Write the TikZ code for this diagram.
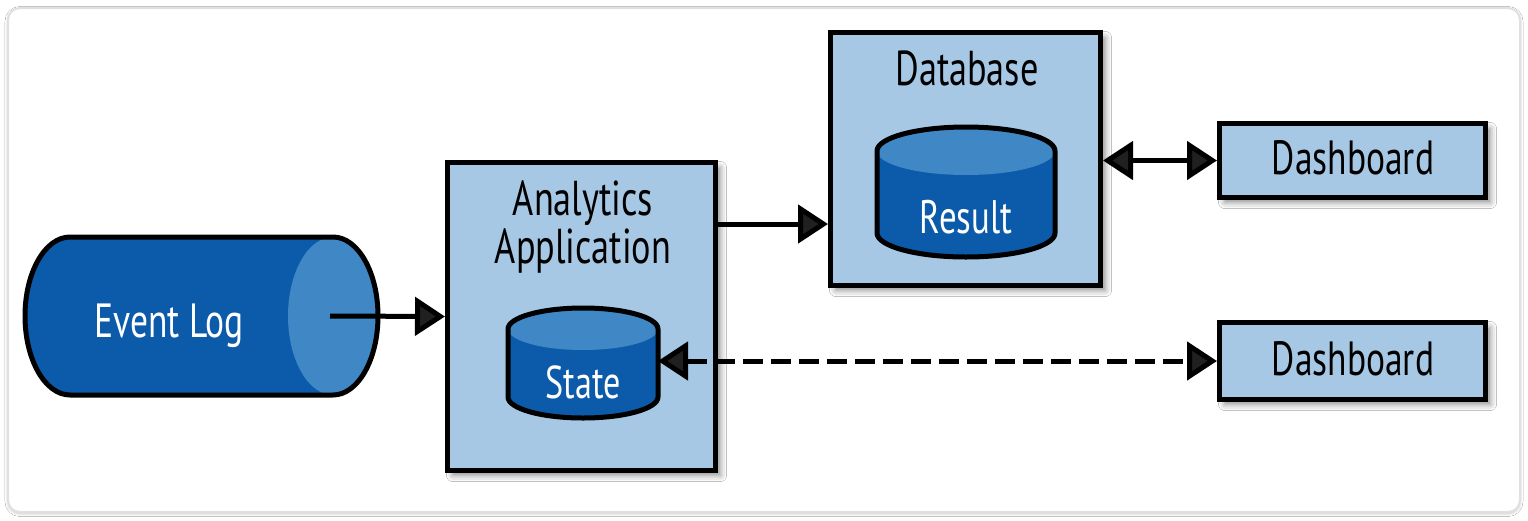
\documentclass[tikz,border=0pt]{standalone}
\usepackage{fontspec}
\setmainfont{PT Sans}[FakeStretch=0.74]
\usetikzlibrary{arrows.meta,shadows.blur,calc}
\definecolor{boxfill}{RGB}{166,200,228}
\definecolor{cyldark}{RGB}{12,91,170}
\definecolor{cyllight}{RGB}{63,136,197}
\definecolor{framegray}{RGB}{224,224,224}
\begin{document}
\begin{tikzpicture}[x=1pt,y=-1pt,
  box/.style={draw=black, fill=boxfill, line width=5pt, inner sep=0pt,
    blur shadow={shadow xshift=5pt, shadow yshift=-5pt, shadow blur radius=6pt, shadow opacity=45}},
  holder/.style={inner sep=0pt, outer sep=0pt},
  lbl/.style={anchor=base, inner sep=0pt, text=black},
  wlbl/.style={anchor=base, inner sep=0pt, text=white},
  cylbody/.style={fill=cyldark},
  cyltop/.style={fill=cyllight},
  cylline/.style={draw=black, line width=5pt, line join=round},
  tip/.tip={Triangle[length=30pt,width=38pt]},
  conn/.style={line width=5pt, -tip},
  biconn/.style={line width=5pt, tip-tip},
  dashconn/.style={biconn, dash pattern=on 20pt off 8pt}
]
\useasboundingbox (0,0) rectangle (1528,520);
\fill[white] (0,0) rectangle (1528,520);
\draw[framegray, line width=2pt, rounded corners=12pt, fill=white,
  blur shadow={shadow xshift=0pt, shadow yshift=-1.5pt, shadow blur radius=3pt, shadow opacity=25}]
  (8,8) rectangle (1520,512);

% Event Log cylinder (horizontal)
\node[holder, minimum width=353pt, minimum height=158pt] (log) at (201.5,316) {};
\path[cylbody] (70,237) -- (333,237) arc[start angle=-90, end angle=90, x radius=45, y radius=79]
  -- (70,395) arc[start angle=90, end angle=270, x radius=45, y radius=79] -- cycle;
\path[cyltop] (333,316) ellipse[x radius=45, y radius=79];
\draw[cylline] (70,237) -- (333,237) arc[start angle=-90, end angle=90, x radius=45, y radius=79]
  -- (70,395) arc[start angle=90, end angle=270, x radius=45, y radius=79] -- cycle;
\node[wlbl, font=\fontsize{48}{49}\selectfont] (loglbl) at (169,337) {Event Log};

% Analytics Application box
\node[box, minimum width=268pt, minimum height=308pt] (app) at (581.5,316.5) {};
\node[lbl, font=\fontsize{49}{50}\selectfont] (applbl1) at (583,215) {Analytics};
\node[lbl, font=\fontsize{49}{50}\selectfont] (applbl2) at (583,263) {Application};

% State cylinder
\node[holder, minimum width=150pt, minimum height=110pt] (state) at (583,363) {};
\path[cylbody] (508,329) -- (508,397) arc[start angle=180, end angle=0, x radius=75, y radius=21]
  -- (658,329) arc[start angle=0, end angle=-180, x radius=75, y radius=21] -- cycle;
\path[cyltop] (583,329) ellipse[x radius=75, y radius=21];
\draw[cylline] (508,329) -- (508,397) arc[start angle=180, end angle=0, x radius=75, y radius=21]
  -- (658,329) arc[start angle=0, end angle=-180, x radius=75, y radius=21] -- cycle;
\node[wlbl, font=\fontsize{46}{47}\selectfont] (statelbl) at (583,398) {State};

% Database box
\node[box, minimum width=270pt, minimum height=253pt] (db) at (965.5,159) {};
\node[lbl, font=\fontsize{49}{50}\selectfont] (dblbl) at (967,85) {Database};

% Result cylinder
\node[holder, minimum width=178pt, minimum height=130pt] (result) at (966,192) {};
\path[cylbody] (877,151) -- (877,233) arc[start angle=180, end angle=0, x radius=89, y radius=24]
  -- (1055,151) arc[start angle=0, end angle=-180, x radius=89, y radius=24] -- cycle;
\path[cyltop] (966,151) ellipse[x radius=89, y radius=24];
\draw[cylline] (877,151) -- (877,233) arc[start angle=180, end angle=0, x radius=89, y radius=24]
  -- (1055,151) arc[start angle=0, end angle=-180, x radius=89, y radius=24] -- cycle;
\node[wlbl, font=\fontsize{47}{48}\selectfont] (resultlbl) at (966,233) {Result};

% Dashboards
\node[box, minimum width=266pt, minimum height=74pt] (dash1) at (1352.5,160.5) {};
\node[lbl, font=\fontsize{48}{49}\selectfont] (dash1lbl) at (1353,174) {Dashboard};
\node[box, minimum width=266pt, minimum height=77pt] (dash2) at (1352.5,361) {};
\node[lbl, font=\fontsize{48}{49}\selectfont] (dash2lbl) at (1353,375) {Dashboard};

% Connectors
\coordinate (logout) at ($(log.east)+(-48,0)$);
\draw[conn] (logout) -- (app.west);
\coordinate (dbin) at (db.west |- 0,224);
\draw[conn] (app.east |- dbin) -- (dbin);
\draw[biconn] (dash1.west -| db.east) -- (dash1.west);
\draw[dashconn] (dash2.west -| state.east) -- (dash2.west);
\end{tikzpicture}
\end{document}
